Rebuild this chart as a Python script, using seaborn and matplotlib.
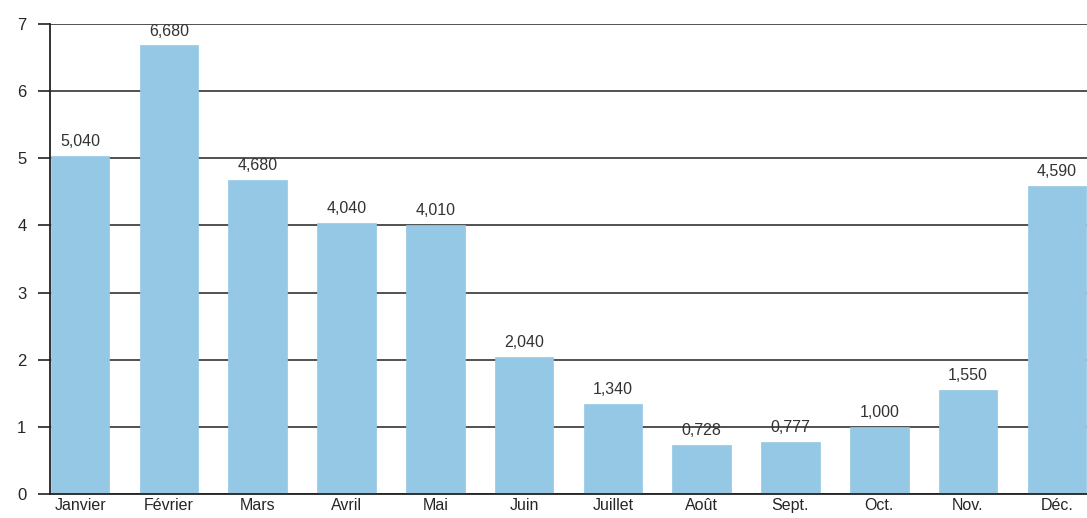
import matplotlib
matplotlib.use("Agg")
import matplotlib.pyplot as plt
import seaborn as sns
import pandas as pd

months = ["Janvier", "Février", "Mars", "Avril", "Mai", "Juin", "Juillet",
          "Août", "Sept.", "Oct.", "Nov.", "Déc."]
values = [5.040, 6.680, 4.680, 4.040, 4.010, 2.040, 1.340, 0.728, 0.777, 1.000, 1.550, 4.590]
yticks = [0, 1, 2, 3, 4, 5, 6, 7]

sns.set_style("white")
plt.rcParams['font.family'] = ['Liberation Sans', 'DejaVu Sans']

fig = plt.figure(figsize=(10.87, 5.18), dpi=100)
ax = fig.add_axes([50/1087, 24/518, 1 - 50/1087, 470/518])

df = pd.DataFrame({"mois": months, "val": values})
sns.barplot(data=df, x="mois", y="val", color="#95c8e4", saturation=1,
            width=0.66, ax=ax, linewidth=0)
for p in ax.patches:
    p.set_facecolor("#95c8e4")
    p.set_edgecolor("#95c8e4")
    p.set_alpha(1)
    p.set_linewidth(0.5)
    p.set_zorder(3)

ax.set_axisbelow(True)
ax.yaxis.grid(True, color="#333333", lw=1.2)
ax.xaxis.grid(False)

ax.set_ylim(0, 7)
ax.set_xlim(-0.34, 11.34)
ax.set_yticks(yticks)
ax.set_yticklabels([str(t) for t in yticks])
ax.set_xlabel("")
ax.set_ylabel("")
for s in ["top", "right"]:
    ax.spines[s].set_visible(False)
ax.spines["left"].set_color("#222222")
ax.spines["bottom"].set_color("#222222")
ax.spines["left"].set_linewidth(1.3)
ax.spines["bottom"].set_linewidth(1.3)
ax.spines["bottom"].set_zorder(4)
ax.tick_params(axis="y", left=True, direction="out", length=9, width=1.2,
               color="#222222", labelsize=12, pad=8)
ax.tick_params(axis="x", bottom=False, length=0, labelsize=11.5, pad=3)

for i, v in enumerate(values):
    ax.text(i, v + 0.1, f"{v:.3f}".replace(".", ","), ha="center", va="bottom",
            fontsize=11.5, color="#333333", zorder=5)

fig.savefig("out.png", dpi=100)
